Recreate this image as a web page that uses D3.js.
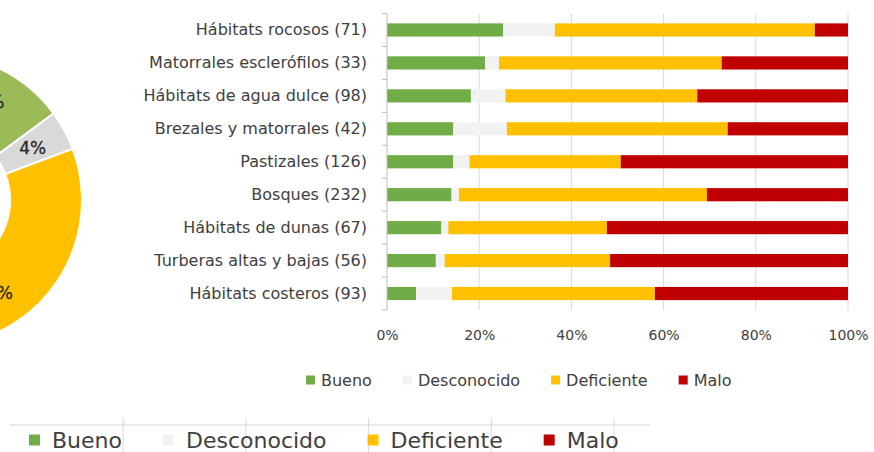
<!DOCTYPE html>
<html>
<head>
<meta charset="utf-8">
<script src="https://cdn.jsdelivr.net/npm/d3@7"></script>
<style>
  body { margin: 0; background: #fff; }
  text { font-family: "DejaVu Sans", sans-serif; }
</style>
</head>
<body>
<div id="chart"></div>
<script>
// Categories (top to bottom) and stacked shares (%)
var categories = [
    "Hábitats rocosos (71)",
    "Matorrales esclerófilos (33)",
    "Hábitats de agua dulce (98)",
    "Brezales y matorrales (42)",
    "Pastizales (126)",
    "Bosques (232)",
    "Hábitats de dunas (67)",
    "Turberas altas y bajas (56)",
    "Hábitats costeros (93)"
];
var bueno       = [25.2, 21.3, 18.2, 14.4, 14.4, 14.0, 11.8, 10.6, 6.3];
var desconocido = [11.2, 3.0, 7.5, 11.6, 3.5, 1.6, 1.5, 1.9, 7.8];
var deficiente  = [56.4, 48.3, 41.6, 47.9, 32.8, 53.8, 34.4, 35.9, 44.0];
var malo        = [7.2, 27.4, 32.7, 26.1, 49.3, 30.6, 52.3, 51.6, 41.9];

var seriesNames = ["Bueno", "Desconocido", "Deficiente", "Malo"];
var barColors = ["#70AD47", "#F2F2F2", "#FFC000", "#C00000"];
var xTicks = [0, 20, 40, 60, 80, 100];

// Doughnut (overall shares, %) - only partly visible at the left edge
var donutValues = [14.9, 4.4, 43.7, 37.0];
var donutColors = ["#9BBB59", "#D9D9D9", "#FFC000", "#C00000"];

var svgWidth = 874;
var svgHeight = 452;

var svg = d3.select("#chart")
    .append("svg")
    .attr("width", svgWidth)
    .attr("height", svgHeight);

svg.append("rect")
    .attr("width", svgWidth)
    .attr("height", svgHeight)
    .attr("fill", "#fff");

// ---- Doughnut ----
var donut = svg.append("g")
    .attr("transform", "translate(-64, 200)");

var pie = d3.pie().sort(null);
var arc = d3.arc().innerRadius(74).outerRadius(146);
var labelArc = d3.arc().innerRadius(110).outerRadius(110);

var slices = pie(donutValues);

donut.selectAll("path")
    .data(slices)
    .enter()
    .append("path")
    .attr("d", arc)
    .attr("fill", (d, i) => donutColors[i])
    .attr("stroke", "#fff")
    .attr("stroke-width", 2);

donut.selectAll(".donutLabel")
    .data(slices)
    .enter()
    .append("text")
    .attr("class", "donutLabel")
    .attr("transform", d => `translate(${labelArc.centroid(d)})`)
    .attr("text-anchor", "middle")
    .attr("dy", "0.35em")
    .attr("font-size", 17)
    .attr("fill", "#262626")
    .attr("stroke", "#262626")
    .attr("stroke-width", 0.3)
    .text(d => Math.round(d.data) + "%");

// ---- Stacked bar chart ----
var plot = { left: 387, right: 848, top: 13.5, bottom: 310 };

var xScale = d3.scaleLinear()
    .domain([0, 100])
    .range([plot.left, plot.right]);

var yScale = d3.scaleBand()
    .domain(categories)
    .range([plot.top, plot.bottom])
    .paddingInner(0.6)
    .paddingOuter(0.3);

// gridlines
svg.append("g")
    .selectAll("line")
    .data(xTicks.slice(1))
    .enter()
    .append("line")
    .attr("x1", d => xScale(d))
    .attr("x2", d => xScale(d))
    .attr("y1", plot.top)
    .attr("y2", plot.bottom)
    .attr("stroke", "#D9D9D9")
    .attr("stroke-width", 1);

// stacked bars
var table = categories.map((c, i) => ({
    cat: c,
    Bueno: bueno[i],
    Desconocido: desconocido[i],
    Deficiente: deficiente[i],
    Malo: malo[i]
}));

var stacked = d3.stack().keys(seriesNames)(table);

svg.append("g")
    .selectAll("g")
    .data(stacked)
    .enter()
    .append("g")
    .attr("fill", (d, i) => barColors[i])
    .selectAll("rect")
    .data(d => d)
    .enter()
    .append("rect")
    .attr("x", d => xScale(d[0]))
    .attr("width", d => xScale(d[1]) - xScale(d[0]))
    .attr("y", d => yScale(d.data.cat))
    .attr("height", yScale.bandwidth());

// y axis line with ticks at category boundaries
var step = yScale.step();
var yAxisG = svg.append("g");
yAxisG.append("line")
    .attr("x1", plot.left)
    .attr("x2", plot.left)
    .attr("y1", plot.top)
    .attr("y2", plot.bottom)
    .attr("stroke", "#BFBFBF");
yAxisG.selectAll(".bTick")
    .data(d3.range(categories.length + 1))
    .enter()
    .append("line")
    .attr("class", "bTick")
    .attr("x1", plot.left - 5)
    .attr("x2", plot.left)
    .attr("y1", i => plot.top + i * step)
    .attr("y2", i => plot.top + i * step)
    .attr("stroke", "#BFBFBF");

// category labels
var leftAxis = d3.axisLeft(yScale).tickSize(0).tickPadding(20);
svg.append("g")
    .attr("transform", `translate(${plot.left}, 0)`)
    .call(leftAxis)
    .call(g => g.select(".domain").remove())
    .selectAll("text")
    .attr("font-family", "DejaVu Sans")
    .attr("font-size", 16)
    .attr("fill", "#404040");

// x tick labels
var bottomAxis = d3.axisBottom(xScale)
    .tickValues(xTicks)
    .tickSize(0)
    .tickPadding(20)
    .tickFormat(d => d + "%");
svg.append("g")
    .attr("transform", `translate(0, ${plot.bottom})`)
    .call(bottomAxis)
    .call(g => g.select(".domain").remove())
    .selectAll("text")
    .attr("font-family", "DejaVu Sans")
    .attr("font-size", 14)
    .attr("fill", "#404040");

// legend helper
function drawLegend(x0, y, size, fontSize, gap, itemGap, colors) {
    var g = svg.append("g");
    var x = x0;
    seriesNames.forEach(function(name, i) {
        g.append("rect")
            .attr("x", x)
            .attr("y", y - size / 2)
            .attr("width", size)
            .attr("height", size)
            .attr("fill", colors[i]);
        var t = g.append("text")
            .attr("x", x + size + gap)
            .attr("y", y)
            .attr("dy", "0.35em")
            .attr("font-size", fontSize)
            .attr("fill", "#404040")
            .text(name);
        x = x + size + gap + t.node().getComputedTextLength() + itemGap;
    });
    return g;
}

// bar chart legend
drawLegend(306, 380, 9, 16, 6, 31, barColors);

// ---- bottom (doughnut) legend with its frame lines ----
var frame = svg.append("g").attr("stroke", "#D9D9D9");
frame.append("line")
    .attr("x1", 10).attr("x2", 650)
    .attr("y1", 425).attr("y2", 425);
frame.selectAll(".vline")
    .data(d3.range(1, 6))
    .enter()
    .append("line")
    .attr("class", "vline")
    .attr("x1", i => 0.5 + i * 122.7)
    .attr("x2", i => 0.5 + i * 122.7)
    .attr("y1", 418)
    .attr("y2", 452);

drawLegend(29, 440, 11, 22, 12, 41, barColors);
</script>
</body>
</html>
